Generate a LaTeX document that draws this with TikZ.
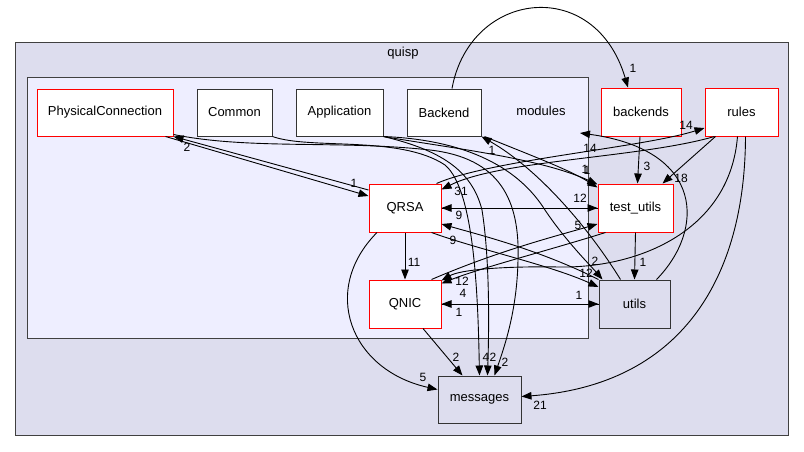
\documentclass[tikz,border=0pt]{standalone}
\usepackage{fontspec}
\setmainfont{Liberation Sans}
\usetikzlibrary{arrows.meta}
\definecolor{outerfill}{HTML}{DDDDEE}
\definecolor{innerfill}{HTML}{EEEEFF}
\definecolor{dxred}{HTML}{FF0000}
\begin{document}
\begin{tikzpicture}[x=1pt,y=-1pt,
  box/.style={draw=black!80,fill=white,line width=1pt,minimum height=47pt,inner sep=0pt,font=\fontsize{13}{15}\selectfont},
  redbox/.style={box,draw=dxred},
  greybox/.style={box,fill=outerfill},
  cluster/.style={draw=black!75,line width=1pt},
  dep/.style={line width=0.9pt,-{Triangle[length=10pt,width=7.5pt]}},
  lab/.style={font=\fontsize{12}{14}\selectfont,inner sep=0pt}]
\useasboundingbox (0,0) rectangle (804,451);
% clusters
\draw[cluster,fill=outerfill] (15,42) rectangle (788,435);
\node[font=\fontsize{13}{15}\selectfont] (quispl) at (403,53) {quisp};
\draw[cluster,fill=innerfill] (27,77) rectangle (588,338);
\node[font=\fontsize{13}{15}\selectfont] (modulesl) at (541,111) {modules};
\coordinate (modin) at (580,133);
% nodes
\node[redbox,minimum width=136pt] (PC) at (105,112.5) {PhysicalConnection};
\node[box,minimum width=75pt] (Common) at (234.5,112.5) {Common};
\node[box,minimum width=87pt] (Application) at (339.5,112.5) {Application};
\node[box,minimum width=74pt] (Backend) at (444,112.5) {Backend};
\node[redbox,minimum width=80pt,minimum height=48pt] (backends) at (641,112) {backends};
\node[redbox,minimum width=73pt,minimum height=48pt] (rules) at (741.5,112) {rules};
\node[redbox,minimum width=72pt,minimum height=48pt] (QRSA) at (405,208) {QRSA};
\node[redbox,minimum width=75pt,minimum height=48pt] (test) at (635.5,208) {test\_utils};
\node[redbox,minimum width=72pt,minimum height=48pt] (QNIC) at (405,304) {QNIC};
\node[greybox,minimum width=71pt,minimum height=48pt] (utils) at (634.5,304) {utils};
\node[greybox,minimum width=83pt] (messages) at (479.5,399.5) {messages};
% edges
\draw[dep] ([xshift=8pt]Backend.north) .. controls (470,-10) and (595,-25) .. ([xshift=-13pt]backends.north);
\node[lab] (l1) at (633,68) {1};
\draw[dep] ([xshift=-8pt]PC.south east) -- ([yshift=12pt]QRSA.west);
\node[lab] (l2) at (354,183) {1};
\draw[dep] ([yshift=18pt]QRSA.west) -- (PC.south east);
\node[lab] (l3) at (187,147) {2};
\draw[dep] (Common.south east) .. controls (310,150) and (400,135) .. (445,165) .. controls (475,190) and (478,300) .. (messages.north);
\node[lab] (l4) at (486,357) {4};
\draw[dep] (Application.south east) .. controls (440,150) and (472,170) .. (482,210) .. controls (490,260) and (489,330) .. ([xshift=8pt]messages.north);
\node[lab] (l5) at (493,357) {2};
\draw[dep] ([yshift=2pt]PC.south east) .. controls (250,150) and (340,140) .. (430,150) .. controls (500,158) and (520,200) .. (518,260) .. controls (517,310) and (505,345) .. ([xshift=15pt]messages.north);
\node[lab] (l6) at (505,362) {2};
\draw[dep] (Application.south east) .. controls (450,148) and (540,158) .. ([yshift=-1pt]test.north west);
\node[lab] (l7) at (585,169) {1};
\draw[dep] ([xshift=3pt]Backend.south east) .. controls (530,155) and (570,170) .. ([yshift=-4pt]test.north west);
\node[lab] (l8) at (587,170) {1};
\draw[dep] ([xshift=-14pt]utils.north) .. controls (590,230) and (540,170) .. (Backend.south east);
\node[lab] (l9) at (492,150) {1};
\draw[dep] ([xshift=22pt]utils.north) .. controls (705,230) and (705,150) .. (modin);
\node[lab] (l10) at (590,148) {14};
\draw[dep] ([xshift=-27pt]rules.south) .. controls (640,158) and (500,160) .. ([yshift=-6pt]QRSA.north east);
\node[lab] (l11) at (461,191) {31};
\draw[dep] ([xshift=-5pt]QRSA.north east) .. controls (490,160) and (640,148) .. ([yshift=-16pt]rules.west);
\node[lab] (l12) at (686,125) {14};
\draw[dep] ([xshift=-1pt]backends.south) -- ([xshift=2pt]test.north);
\node[lab] (l13) at (647,166) {3};
\draw[dep] ([xshift=-26pt]rules.south) -- ([xshift=27pt]test.north);
\node[lab] (l14) at (681,178) {18};
\draw[dep] (QRSA.east) -- (test.west);
\node[lab] (l15) at (580,198) {12};
\draw[dep] (test.west) -- (QRSA.east);
\node[lab] (l16) at (459,215) {9};
\draw[dep] ([xshift=-10pt]QNIC.north east) .. controls (500,250) and (560,235) .. ([yshift=-16pt]test.west);
\node[lab] (l17) at (578,225) {5};
\draw[dep] ([xshift=-30pt]test.south) .. controls (550,250) and (480,268) .. ([yshift=-4pt]QNIC.north east);
\node[lab] (l18) at (463,293) {4};
\draw[dep] ([xshift=-4pt]rules.south) .. controls (730,230) and (640,268) .. (560,267) .. controls (500,266) and (460,270) .. ([yshift=-1pt]QNIC.north east);
\node[lab] (l19) at (462,281) {12};
\draw[dep] ([xshift=4pt]rules.south) .. controls (745,280) and (680,385) .. ([yshift=3pt]messages.east);
\node[lab] (l20) at (540,405) {21};
\draw[dep] (test.south) -- (utils.north);
\node[lab] (l21) at (643,262) {1};
\draw[dep] (utils.north west) .. controls (540,250) and (480,235) .. ([yshift=-16pt]QRSA.east);
\node[lab] (l22) at (453,240) {9};
\draw[dep] ([xshift=-10pt]QRSA.south east) .. controls (480,250) and (550,265) .. ([yshift=17pt]utils.west);
\node[lab] (l23) at (586,273) {12};
\draw[dep] (Application.south east) .. controls (470,140) and (520,170) .. (545,210) .. controls (565,240) and (590,265) .. ([xshift=4pt]utils.north west);
\node[lab] (l24) at (595,261) {2};
\draw[dep] (QNIC.east) -- (utils.west);
\node[lab] (l25) at (579,295) {1};
\draw[dep] (utils.west) -- (QNIC.east);
\node[lab] (l26) at (459,312) {1};
\draw[dep] (QRSA.south) -- (QNIC.north);
\node[lab] (l27) at (414,262) {11};
\draw[dep] ([xshift=-28pt]QRSA.south) .. controls (320,290) and (350,370) .. ([yshift=10pt]messages.west);
\node[lab] (l28) at (423,377) {5};
\draw[dep] ([xshift=18pt]QNIC.south) -- ([xshift=-17pt]messages.north);
\node[lab] (l29) at (456,357) {2};
\end{tikzpicture}
\end{document}
